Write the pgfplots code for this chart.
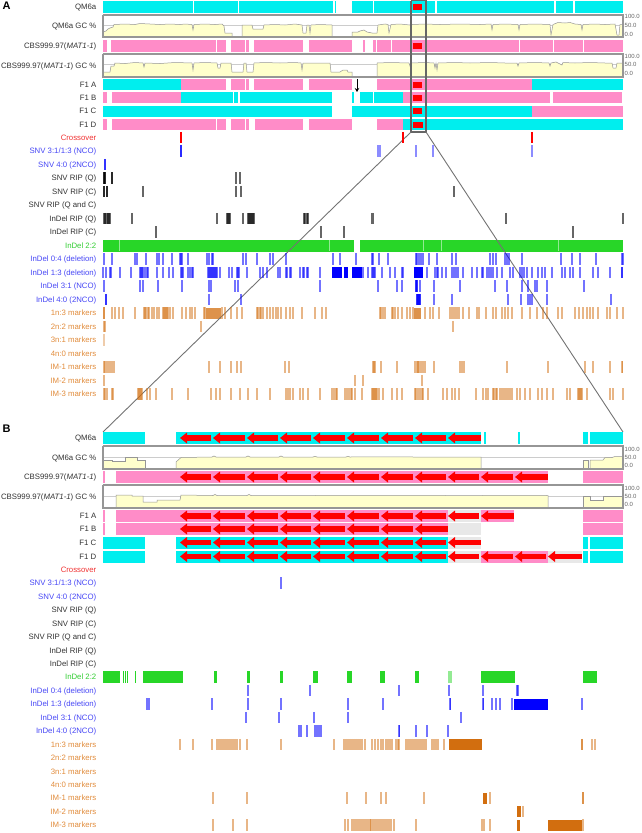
\documentclass[border=0pt]{standalone}
\usepackage{pgfplots}
\pgfplotsset{compat=1.18}
\usepackage{fontspec}
\setmainfont{Liberation Sans}
\usetikzlibrary{arrows.meta}
\definecolor{cy}{RGB}{0,238,238}
\definecolor{pk}{RGB}{255,140,200}
\definecolor{gcy}{RGB}{255,255,204}
\definecolor{gcl}{RGB}{150,150,150}
\definecolor{frm}{RGB}{150,150,150}
\definecolor{rd}{RGB}{255,0,0}
\definecolor{gr}{RGB}{40,214,40}
\definecolor{bl}{RGB}{0,0,255}
\definecolor{org}{RGB}{210,110,15}
\definecolor{lgr}{RGB}{232,232,232}
\definecolor{labk}{RGB}{50,50,50}
\definecolor{labr}{RGB}{240,50,50}
\definecolor{labb}{RGB}{70,70,245}
\definecolor{labg}{RGB}{50,205,50}
\definecolor{labo}{RGB}{225,140,60}
\pgfdeclareplotmark{lhead}{%
  \pgfpathmoveto{\pgfqpoint{0pt}{0pt}}%
  \pgfpathlineto{\pgfqpoint{7pt}{5.5pt}}%
  \pgfpathlineto{\pgfqpoint{7pt}{-5.5pt}}%
  \pgfpathclose\pgfusepathqfill}
\pgfplotsset{
  seg/.style n args={2}{color=#1, line width=#2, line cap=butt, mark=none, unbounded coords=jump},
  tk/.style n args={3}{only marks, mark=|, mark size=5.6pt, color=#1, mark options={solid, line width=#2, draw opacity=#3}},
}
\tikzset{gclab/.style={anchor=west, inner sep=0pt, text height=4.2pt, text depth=0pt, text=black!60, font=\fontsize{6}{7}\selectfont}}
\newcommand{\lab}[3]{\node[anchor=east,inner sep=0pt,text height=5.6pt,text depth=0pt,text=#1,font=\fontsize{7.8}{9}\selectfont] at (axis cs:96.5,#2) {#3};}
\newcommand{\gcl}[3]{\node[gclab] at (axis cs:624.5,#1) {100.0};\node[gclab] at (axis cs:624.5,#2) {50.0};\node[gclab] at (axis cs:624.5,#3) {0.0};}
\begin{document}
\begin{tikzpicture}
\begin{axis}[scale only axis, width=642pt, height=833pt, xmin=0, xmax=642, ymin=0, ymax=833, y dir=reverse, hide axis, clip=false]
% ================= PANEL A =================
% QM6a
\addplot[seg={cy}{12pt}] coordinates {(103,7)(193,7)(nan,7)(194,7)(238,7)(nan,7)(239,7)(333,7)(nan,7)(334.5,7)(335.5,7)(nan,7)(352,7)(373,7)(nan,7)(374,7)(435,7)(nan,7)(437,7)(554,7)(nan,7)(556,7)(573,7)(nan,7)(575,7)(623,7)};
% CBS
\addplot[seg={pk}{12pt}] coordinates {(103,46)(107,46)(nan,46)(111,46)(216,46)(nan,46)(217,46)(226,46)(nan,46)(231,46)(245,46)(nan,46)(246,46)(249,46)(nan,46)(254,46)(303,46)(nan,46)(309,46)(352,46)(nan,46)(363,46)(365,46)(nan,46)(373,46)(376,46)(nan,46)(377,46)(390.5,46)(nan,46)(391.5,46)(518.5,46)(nan,46)(519.5,46)(552.5,46)(nan,46)(553.5,46)(582.5,46)(nan,46)(583.5,46)(623,46)};
% F1 A
\addplot[seg={cy}{11pt}] coordinates {(103,84.5)(181,84.5)(nan,84.5)(532,84.5)(623,84.5)};
\addplot[seg={pk}{11pt}] coordinates {(181,84.5)(226,84.5)(nan,84.5)(231,84.5)(245,84.5)(nan,84.5)(246,84.5)(249,84.5)(nan,84.5)(254,84.5)(303,84.5)(nan,84.5)(309,84.5)(352,84.5)(nan,84.5)(377,84.5)(532,84.5)};
% F1 B
\addplot[seg={pk}{11pt}] coordinates {(103,97.5)(107,97.5)(nan,97.5)(112,97.5)(181,97.5)(nan,97.5)(403,97.5)(550,97.5)(nan,97.5)(553,97.5)(622,97.5)};
\addplot[seg={cy}{11pt}] coordinates {(181,97.5)(233,97.5)(nan,97.5)(234,97.5)(238,97.5)(nan,97.5)(240,97.5)(332,97.5)(nan,97.5)(352,97.5)(354,97.5)(nan,97.5)(360,97.5)(373,97.5)(nan,97.5)(374,97.5)(403,97.5)};
% F1 C
\addplot[seg={cy}{11pt}] coordinates {(103,111)(332,111)(nan,111)(352,111)(532,111)};
\addplot[seg={pk}{11pt}] coordinates {(532,111)(623,111)};
% F1 D
\addplot[seg={pk}{11pt}] coordinates {(103,124.5)(107,124.5)(nan,124.5)(112,124.5)(216,124.5)(nan,124.5)(217,124.5)(226,124.5)(nan,124.5)(231,124.5)(245,124.5)(nan,124.5)(246,124.5)(249,124.5)(nan,124.5)(255,124.5)(303,124.5)(nan,124.5)(309,124.5)(352,124.5)(nan,124.5)(377,124.5)(403,124.5)};
\addplot[seg={cy}{11pt}] coordinates {(403,124.5)(623,124.5)};
% MAT locus
\addplot[seg={rd}{6pt}] coordinates {(413,7)(422,7)(nan,7)(413,46)(422,46)(nan,46)(413,84.5)(422,84.5)(nan,84.5)(413,97.5)(422,97.5)(nan,97.5)(413,111)(422,111)(nan,111)(413,124.5)(423,124.5)};
% GC frames & midlines
\addplot[draw=black!20, line width=0.6pt, mark=none, unbounded coords=jump] coordinates {(103,25.5)(623,25.5)(nan,25.5)(103,64.5)(623,64.5)(nan,64.5)(103,457.5)(623,457.5)(nan,457.5)(103,496.5)(623,496.5)};
% QM6a GC A
\addplot[fill=gcy, draw=gcl, line width=0.5pt, mark=none] coordinates {(103,36.5)(103,32)(106,31)(108,29)(110,28)(113,27)(114,24.5)(125,24)(135,24.5)(140,23.5)(150,24)(160,24.5)(170,24)(180,24.5)(185,24)(192,24.5)(193,30)(194,24.5)(205,24)(215,24.5)(222,24)(224,26)(225,33)(232,33)(232,36.5)} -- cycle;
\addplot[fill=gcy, draw=gcl, line width=0.5pt, mark=none] coordinates {(242,36.5)(242,25)(252,25)(253,29)(263,29)(264,25)(275,24.5)(285,25)(295,24)(302,25)(303,33)(306,33)(307,25)(309,25)(310,33)(311,25)(320,24.5)(332,25)(332,36.5)} -- cycle;
\addplot[fill=gcy, draw=gcl, line width=0.5pt, mark=none] coordinates {(352,36.5)(352,32)(358,32)(360,31)(364,30)(367,32)(372,33)(377,33)(378,25)(385,24)(388,24.5)(389,33)(391,24.5)(400,24)(410,25)(411,27)(412,24.5)(425,24)(440,24.5)(460,24)(480,24.5)(491,24)(492,30)(493,24.5)(505,24)(518,24.5)(519,30)(520,24.5)(535,24)(550,24.5)(551,35)(553,24.5)(558,22.5)(565,23)(570,22.5)(575,24)(581,24.5)(582,30)(583,24.5)(595,24)(605,24.5)(615,24)(617,35)(619,35)(620,24.5)(623,24.5)(623,36.5)} -- cycle;
% CBS GC A
\addplot[fill=gcy, draw=gcl, line width=0.5pt, mark=none] coordinates {(103,76.5)(103,72)(110,72)(111,66)(114,66)(115,63)(125,63.5)(135,62.5)(143,63)(144,67)(145,63)(160,63.5)(175,62.5)(192,63)(193,70)(194,63)(205,62.5)(217,63)(218,68)(220,68)(221,63)(231,63)(232,72)(243,72)(244,63)(246,63)(247,72)(253,72)(254,63)(265,62.5)(280,63)(295,62.5)(301,63)(302,70)(303,63)(320,63)(330,63)(331,72)(340,72)(343,70)(347,70)(348,72)(352,72)(352,76.5)} -- cycle;
\addplot[fill=gcy, draw=gcl, line width=0.5pt, mark=none] coordinates {(377,76.5)(377,63)(390,62.5)(409,63)(410,66)(411,63)(425,62.5)(434,63)(435,68)(436,63)(437,70)(438,63)(455,62.5)(470,63)(490,62.5)(505,63)(517,63)(518,66)(519,63)(535,62.5)(549,63)(550,66)(551,63)(556,62)(562,65)(563,62.5)(575,63)(590,62.5)(605,63)(612,63)(613,68)(616,68)(617,63)(623,63)(623,76.5)} -- cycle;
\addplot[draw=frm, line width=1.3pt, mark=none, unbounded coords=jump] coordinates {(103,15)(623,15)(623,37)(103,37)(103,15)(nan,15)(103,54)(623,54)(623,77)(103,77)(103,54)};
% Crossover
\addplot[tk={rd}{1.6pt}{1}] coordinates {(181,137.5)(403,137.5)(532,137.5)};
% SNV 3:1/1:3
\addplot[tk={bl}{1.1pt}{0.45}] coordinates {(181,151)(181,151)(181,151)(378,151)(380,151)(416,151)(433,151)(532,151)};
% SNV 4:0
\addplot[tk={bl}{1.2pt}{0.8}] coordinates {(104.5,164.5)(105.5,164.5)};
% SNV RIP Q / C
\addplot[tk={black}{1.1pt}{0.6}] coordinates {(104,178)(104,178)(105,178)(105,178)(112,178)(112,178)(236,178)(240,178)};
\addplot[tk={black}{1.1pt}{0.6}] coordinates {(104,191.5)(104,191.5)(107,191.5)(107,191.5)(143,191.5)(236,191.5)(241,191.5)(454,191.5)};
% InDel RIP Q / C
\addplot[tk={black}{1.1pt}{0.6}] coordinates {(103.5,218.5)(105,218.5)(105,218.5)(107,218.5)(108,218.5)(109,218.5)(110,218.5)(132,218.5)(217,218.5)(227,218.5)(228,218.5)(229,218.5)(230,218.5)(243,218.5)(248,218.5)(249,218.5)(250,218.5)(251,218.5)(252,218.5)(253,218.5)(254,218.5)(304,218.5)(305,218.5)(307,218.5)(308,218.5)(372,218.5)(373.5,218.5)(506,218.5)(623,218.5)};
\addplot[tk={black}{1.1pt}{0.6}] coordinates {(156,232)(321,232)(344,232)(573,232)};
% InDel 2:2
\addplot[seg={gr}{12pt}] coordinates {(103,245.5)(354,245.5)(nan,245.5)(360,245.5)(623,245.5)};
\addplot[tk={white}{1pt}{0.5}] coordinates {(119,245.5)(329,245.5)(423,245.5)(441,245.5)(558,245.5)};
% InDel 0:4
\addplot[tk={bl}{1.1pt}{0.55}] coordinates {(104,259)(112,259)(135,259)(137,259)(146,259)(157,259)(159,259)(163,259)(172,259)(180,259)(181,259)(182,259)(188,259)(207,259)(209,259)(212,259)(213,259)(243,259)(246,259)(257,259)(270,259)(273,259)(286,259)(333,259)(340,259)(356,259)(372,259)(373,259)(379,259)(388,259)(416,259)(417,259)(419,259)(421,259)(423,259)(429,259)(437,259)(452,259)(456,259)(490,259)(493,259)(496,259)(505,259)(507,259)(509,259)(522,259)(561,259)(572,259)(580,259)(596,259)(622,259)(623,259)};
% InDel 1:3
\addplot[seg={bl}{11pt}] coordinates {(332,272.5)(342,272.5)(nan,272.5)(343.5,272.5)(348,272.5)(nan,272.5)(352,272.5)(362,272.5)(nan,272.5)(413.5,272.5)(422.5,272.5)};
\addplot[tk={bl}{1.1pt}{0.55}] coordinates {(103,272.5)(106,272.5)(110,272.5)(111,272.5)(120,272.5)(131,272.5)(140,272.5)(141,272.5)(142,272.5)(143,272.5)(145,272.5)(147,272.5)(148,272.5)(157,272.5)(163,272.5)(169,272.5)(173,272.5)(181,272.5)(182,272.5)(183,272.5)(188,272.5)(190,272.5)(192,272.5)(193,272.5)(208,272.5)(209,272.5)(210,272.5)(211,272.5)(212,272.5)(213,272.5)(214,272.5)(215,272.5)(216,272.5)(217,272.5)(220,272.5)(229,272.5)(232,272.5)(237,272.5)(238,272.5)(239,272.5)(247,272.5)(260,272.5)(263,272.5)(267,272.5)(278,272.5)(280,272.5)(286,272.5)(287,272.5)(290,272.5)(291,272.5)(300,272.5)(303,272.5)(304,272.5)(307,272.5)(308,272.5)(320,272.5)(363,272.5)(368,272.5)(372,272.5)(373,272.5)(374,272.5)(375,272.5)(382,272.5)(390,272.5)(395,272.5)(402,272.5)(403,272.5)(427,272.5)(435,272.5)(437,272.5)(438,272.5)(442,272.5)(446,272.5)(452,272.5)(454,272.5)(456,272.5)(458,272.5)(463,272.5)(472,272.5)(477,272.5)(482,272.5)(483,272.5)(487,272.5)(489,272.5)(491,272.5)(493,272.5)(497,272.5)(502,272.5)(510,272.5)(513,272.5)(520,272.5)(522,272.5)(524,272.5)(527,272.5)(532,272.5)(538,272.5)(542,272.5)(545,272.5)(552,272.5)(562,272.5)(565,272.5)(570,272.5)(573,272.5)(580,272.5)(593,272.5)(598,272.5)(610,272.5)(622,272.5)(622,272.5)};
% InDel 3:1
\addplot[tk={bl}{1.1pt}{0.55}] coordinates {(104,286)(140,286)(143,286)(158,286)(182,286)(209,286)(211,286)(235,286)(238,286)(320,286)(378,286)(397,286)(402,286)(416,286)(416,286)(417,286)(417,286)(420,286)(434,286)(460,286)(495,286)(507,286)(522,286)(528,286)(535,286)(537,286)(547,286)(584,286)};
% InDel 4:0
\addplot[tk={bl}{1.1pt}{0.55}] coordinates {(106,299.5)(106,299.5)(209,299.5)(241,299.5)(417,299.5)(417,299.5)(418,299.5)(418,299.5)(419,299.5)(419,299.5)(420,299.5)(420,299.5)(434,299.5)(452,299.5)(508,299.5)(521,299.5)(528,299.5)(530,299.5)(532,299.5)(547,299.5)(611,299.5)};
% 1n:3 markers
\addplot[seg={org}{11pt}, draw opacity=0.75] coordinates {(206,313)(221,313)(nan,313)(414,313)(421,313)};
\addplot[tk={org}{1.3pt}{0.5}] coordinates {(104,313)(104,313)(112,313)(115,313)(119,313)(123,313)(135,313)(144,313)(145,313)(146,313)(148,313)(149,313)(152,313)(154,313)(157,313)(159,313)(163,313)(164,313)(165,313)(166,313)(167,313)(168,313)(170,313)(173,313)(182,313)(186,313)(190,313)(192,313)(195,313)(204,313)(205,313)(222,313)(225,313)(231,313)(237,313)(242,313)(257,313)(258,313)(260,313)(261,313)(263,313)(267,313)(270,313)(273,313)(276,313)(278,313)(281,313)(286,313)(290,313)(293,313)(302,313)(315,313)(322,313)(326,313)(380,313)(381,313)(383,313)(385,313)(392,313)(393,313)(395,313)(398,313)(402,313)(407,313)(410,313)(413,313)(425,313)(430,313)(433,313)(439,313)(450,313)(451.5,313)(453,313)(454.5,313)(456,313)(457.5,313)(459,313)(463,313)(469,313)(477,313)(479,313)(486,313)(493,313)(496,313)(502,313)(505,313)(508,313)(512,313)(522,313)(530,313)(537,313)(543,313)(547,313)(558,313)(562,313)(575,313)(579,313)(583,313)(587,313)(590,313)(593,313)(598,313)(607,313)(610,313)(617,313)(623,313)};
% 2n:2, 3n:1
\addplot[tk={org}{1.3pt}{0.5}] coordinates {(103.5,326.5)(104.5,326.5)(104.5,326.5)(105.5,326.5)(201,326.5)(453,326.5)};
\addplot[tk={org}{1.3pt}{0.35}] coordinates {(104,340)};
% IM-1
\addplot[tk={org}{1.3pt}{0.5}] coordinates {(103.5,367)(104.5,367)(104.5,367)(105.5,367)(106.5,367)(108,367)(109.5,367)(111,367)(112.5,367)(114,367)(209,367)(220,367)(231,367)(237,367)(241,367)(285,367)(289,367)(373,367)(374,367)(375,367)(381,367)(397,367)(415,367)(417,367)(418,367)(419,367)(421,367)(423,367)(425,367)(434,367)(460,367)(462,367)(464,367)(507,367)(548,367)(585,367)(593,367)(610,367)(622,367)(622.5,367)};
% IM-2
\addplot[tk={org}{1.3pt}{0.5}] coordinates {(104,380.5)(355,380.5)(363,380.5)(422,380.5)};
% IM-3
\addplot[tk={org}{1.3pt}{0.5}] coordinates {(104,394)(105,394)(107,394)(112,394)(113,394)(138,394)(139,394)(140,394)(141,394)(142,394)(147,394)(150,394)(156,394)(172,394)(188,394)(211,394)(216,394)(220,394)(231,394)(240,394)(248,394)(257,394)(270,394)(286,394)(288,394)(290,394)(293,394)(300,394)(303,394)(308,394)(320,394)(332,394)(334,394)(336,394)(337,394)(345,394)(347,394)(349,394)(351,394)(352,394)(355,394)(362,394)(372,394)(373,394)(374,394)(375,394)(376,394)(377,394)(379,394)(383,394)(392,394)(397,394)(402,394)(415,394)(416,394)(418,394)(420,394)(422,394)(423,394)(428,394)(443,394)(447,394)(452,394)(455,394)(459,394)(476,394)(483,394)(486,394)(488,394)(493,394)(494,394)(496,394)(497,394)(500,394)(502,394)(504,394)(506,394)(508,394)(510,394)(512,394)(517,394)(520,394)(525,394)(530,394)(538,394)(542,394)(547,394)(553,394)(567,394)(570,394)(578,394)(579,394)(580,394)(581,394)(582,394)(587,394)(610,394)(613,394)(623,394)};
% zoom box and connectors
\addplot[draw=black!60, line width=1.2pt, mark=none] coordinates {(411,0.8)(426,0.8)(426,132)(411,132)(411,0.8)};
\addplot[draw=black!55, line width=0.9pt, mark=none, unbounded coords=jump] coordinates {(411,132)(103,432)(nan,132)(426,132)(623,432)};
% arrow
\addplot[black, line width=0.9pt, mark=none, -{Stealth[length=4pt,width=4.5pt]}] coordinates {(357,79)(357,92)};
% ================= PANEL B =================
\addplot[seg={cy}{12pt}] coordinates {(103,438)(145,438)(nan,438)(176,438)(481,438)(nan,438)(484,438)(486,438)(nan,438)(518,438)(519.5,438)(nan,438)(583,438)(588,438)(nan,438)(590,438)(623,438)};
\addplot[seg={pk}{12pt}] coordinates {(103,477)(105,477)(nan,477)(116,477)(548,477)(nan,477)(583,477)(623,477)};
\addplot[seg={pk}{12pt}] coordinates {(103,516)(105,516)(nan,516)(116,516)(448,516)(nan,516)(481,516)(514,516)(nan,516)(583,516)(623,516)};
\addplot[seg={pk}{12pt}] coordinates {(103,529)(105,529)(nan,529)(116,529)(448,529)(nan,529)(583,529)(623,529)};
\addplot[seg={cy}{12pt}] coordinates {(103,542.5)(145,542.5)(nan,542.5)(176,542.5)(448,542.5)(nan,542.5)(583,542.5)(588,542.5)(nan,542.5)(590,542.5)(623,542.5)};
\addplot[seg={cy}{12pt}] coordinates {(103,556.5)(145,556.5)(nan,556.5)(176,556.5)(448,556.5)(nan,556.5)(583,556.5)(588,556.5)(nan,556.5)(590,556.5)(623,556.5)};
\addplot[seg={pk}{12pt}] coordinates {(481,556.5)(548,556.5)};
\addplot[seg={lgr}{12pt}] coordinates {(448,516)(481,516)(nan,516)(448,529)(481,529)(nan,529)(448,542.5)(481,542.5)(nan,542.5)(448,556.5)(481,556.5)(nan,556.5)(548,556.5)(582,556.5)};
% red arrows: shafts
\addplot[seg={rd}{5.5pt}] coordinates {(186,438)(211,438)(nan,438)(219,438)(245,438)(nan,438)(253,438)(278,438)(nan,438)(286,438)(311,438)(nan,438)(319,438)(345,438)(nan,438)(353,438)(379,438)(nan,438)(387,438)(413,438)(nan,438)(421,438)(446,438)(nan,438)(454,438)(481,438)};
\addplot[seg={rd}{5.5pt}] coordinates {(186,477)(211,477)(nan,477)(219,477)(245,477)(nan,477)(253,477)(278,477)(nan,477)(286,477)(311,477)(nan,477)(319,477)(345,477)(nan,477)(353,477)(379,477)(nan,477)(387,477)(413,477)(nan,477)(421,477)(446,477)(nan,477)(454,477)(479,477)(nan,477)(487,477)(513,477)(nan,477)(521,477)(548,477)};
\addplot[seg={rd}{5.5pt}] coordinates {(186,516)(211,516)(nan,516)(219,516)(245,516)(nan,516)(253,516)(278,516)(nan,516)(286,516)(311,516)(nan,516)(319,516)(345,516)(nan,516)(353,516)(379,516)(nan,516)(387,516)(413,516)(nan,516)(421,516)(446,516)(nan,516)(454,516)(479,516)(nan,516)(487,516)(514,516)};
\addplot[seg={rd}{5.5pt}] coordinates {(186,529)(211,529)(nan,529)(219,529)(245,529)(nan,529)(253,529)(278,529)(nan,529)(286,529)(311,529)(nan,529)(319,529)(345,529)(nan,529)(353,529)(379,529)(nan,529)(387,529)(413,529)(nan,529)(421,529)(448,529)};
\addplot[seg={rd}{5.5pt}] coordinates {(186,542.5)(211,542.5)(nan,542.5)(219,542.5)(245,542.5)(nan,542.5)(253,542.5)(278,542.5)(nan,542.5)(286,542.5)(311,542.5)(nan,542.5)(319,542.5)(345,542.5)(nan,542.5)(353,542.5)(379,542.5)(nan,542.5)(387,542.5)(413,542.5)(nan,542.5)(421,542.5)(446,542.5)(nan,542.5)(454,542.5)(481,542.5)};
\addplot[seg={rd}{5.5pt}] coordinates {(186,556.5)(211,556.5)(nan,556.5)(219,556.5)(245,556.5)(nan,556.5)(253,556.5)(278,556.5)(nan,556.5)(286,556.5)(311,556.5)(nan,556.5)(319,556.5)(345,556.5)(nan,556.5)(353,556.5)(379,556.5)(nan,556.5)(387,556.5)(413,556.5)(nan,556.5)(421,556.5)(446,556.5)(nan,556.5)(454,556.5)(479,556.5)(nan,556.5)(487,556.5)(513,556.5)(nan,556.5)(521,556.5)(546,556.5)(nan,556.5)(554,556.5)(582,556.5)};
% red arrows: heads
\addplot[only marks, mark=lhead, color=rd] coordinates {(180,438)(213,438)(247,438)(280,438)(313,438)(347,438)(381,438)(415,438)(448,438)
(180,477)(213,477)(247,477)(280,477)(313,477)(347,477)(381,477)(415,477)(448,477)(481,477)(515,477)
(180,516)(213,516)(247,516)(280,516)(313,516)(347,516)(381,516)(415,516)(448,516)(481,516)
(180,529)(213,529)(247,529)(280,529)(313,529)(347,529)(381,529)(415,529)
(180,542.5)(213,542.5)(247,542.5)(280,542.5)(313,542.5)(347,542.5)(381,542.5)(415,542.5)(448,542.5)
(180,556.5)(213,556.5)(247,556.5)(280,556.5)(313,556.5)(347,556.5)(381,556.5)(415,556.5)(448,556.5)(481,556.5)(515,556.5)(548,556.5)};
% QM6a GC B
\addplot[fill=gcy, draw=gcl, line width=0.5pt, mark=none] coordinates {(103,468.5)(103,460)(112,460)(112,461)(125,461)(125,457.5)(137,457.5)(137,460)(145,460)(145,468.5)} -- cycle;
\addplot[fill=gcy, draw=gcl, line width=0.5pt, mark=none] coordinates {(176,468.5)(176,462)(181,457.5)(212,457)(214,456)(216,457)(246,457)(248,456)(250,457)(279,457)(281,456)(283,457)(313,457)(315,456.3)(317,457)(346,457)(348,456.3)(350,457)(380,456.8)(414,457)(447,457)(481,457)(481,468.5)} -- cycle;
\addplot[fill=gcy, draw=gcl, line width=0.5pt, mark=none] coordinates {(583,468.5)(583,460)(588,460)(588,468.5)} -- cycle;
\addplot[fill=gcy, draw=gcl, line width=0.5pt, mark=none] coordinates {(590,468.5)(590,460)(603,460)(605,457.5)(612,457.5)(615,456.5)(623,456.5)(623,468.5)} -- cycle;
% CBS GC B
\addplot[fill=gcy, draw=gcl, line width=0.5pt, mark=none] coordinates {(116,507.5)(116,495)(132,495)(132,496)(143,496)(143,502)(157,502)(157,500)(180,500)(181,495)(213,495.5)(215,494.5)(217,495.5)(247,495.5)(249,494.5)(251,495.5)(313,495.5)(381,495.3)(448,495.5)(481,495.5)(515,495.3)(548,495.5)(548,507.5)} -- cycle;
\addplot[fill=gcy, draw=gcl, line width=0.5pt, mark=none] coordinates {(583,507.5)(583,496)(590,496)(590,500.5)(603,500.5)(603,496.5)(623,496.5)(623,507.5)} -- cycle;
\addplot[draw=frm, line width=1.3pt, mark=none, unbounded coords=jump] coordinates {(103,446)(623,446)(623,469)(103,469)(103,446)(nan,446)(103,485)(623,485)(623,508)(103,508)(103,485)};
% B ticks
\addplot[tk={bl}{1.1pt}{0.55}] coordinates {(281,583)};
\addplot[seg={gr}{12pt}] coordinates {(103,677)(120,677)(nan,677)(123,677)(124,677)(nan,677)(125,677)(126,677)(nan,677)(127,677)(128,677)(nan,677)(135,677)(136,677)(nan,677)(143,677)(183,677)(nan,677)(214,677)(217,677)(nan,677)(247,677)(250,677)(nan,677)(280,677)(283,677)(nan,677)(313,677)(318,677)(nan,677)(347,677)(352,677)(nan,677)(380,677)(385,677)(nan,677)(415,677)(419,677)(nan,677)(481,677)(515,677)(nan,677)(583,677)(597,677)};
\addplot[seg={gr}{12pt}, draw opacity=0.5] coordinates {(448,677)(452,677)};
\addplot[tk={bl}{1.1pt}{0.55}] coordinates {(248,690.5)(310,690.5)(399,690.5)(449,690.5)(483,690.5)(516.5,690.5)(517.5,690.5)(517.5,690.5)(518.5,690.5)};
\addplot[seg={bl}{11pt}] coordinates {(514,704)(548,704)};
\addplot[tk={bl}{1.1pt}{0.55}] coordinates {(147,704)(149,704)(212,704)(248,704)(281,704)(348,704)(383,704)(449.5,704)(450.5,704)(450.5,704)(482.5,704)(483.5,704)(483.5,704)(492,704)(496,704)(500,704)(512,704)(582,704)};
\addplot[tk={bl}{1.1pt}{0.55}] coordinates {(246,717.5)(279,717.5)(314,717.5)(348,717.5)(461,717.5)};
\addplot[tk={bl}{1.1pt}{0.55}] coordinates {(299,731)(301,731)(307,731)(315,731)(317,731)(319,731)(321,731)(398.5,731)(399.5,731)(399.5,731)(416,731)(427,731)(448,731)};
\addplot[seg={org}{11pt}] coordinates {(449,744.5)(482,744.5)(nan,744.5)(548,825)(582,825)(nan,825)(483,798)(487,798)(nan,798)(517,811.5)(521,811.5)(nan,811.5)(517,825)(520,825)};
\addplot[tk={org}{1.3pt}{0.5}] coordinates {(180,744.5)(193,744.5)(212,744.5)(217,744.5)(219,744.5)(221,744.5)(223,744.5)(225,744.5)(227,744.5)(229,744.5)(231,744.5)(233,744.5)(235,744.5)(237,744.5)(240,744.5)(247,744.5)(281,744.5)(334,744.5)(344,744.5)(346,744.5)(348,744.5)(350,744.5)(352,744.5)(354,744.5)(356,744.5)(358,744.5)(360,744.5)(362,744.5)(365,744.5)(372,744.5)(375,744.5)(378,744.5)(381,744.5)(383,744.5)(386,744.5)(388,744.5)(390,744.5)(392,744.5)(396,744.5)(398,744.5)(399,744.5)(406,744.5)(408,744.5)(410,744.5)(412,744.5)(414,744.5)(416,744.5)(418,744.5)(420,744.5)(422,744.5)(424,744.5)(426,744.5)(432,744.5)(434,744.5)(436,744.5)(438,744.5)(444,744.5)(582,744.5)(582,744.5)(592,744.5)(595,744.5)};
\addplot[tk={org}{1.3pt}{0.5}] coordinates {(213,798)(247,798)(347,798)(366,798)(381,798)(386,798)(424,798)(490,798)(583,798)(583,798)};
\addplot[tk={org}{1.3pt}{0.5}] coordinates {(523,811.5)};
\addplot[tk={org}{1.3pt}{0.5}] coordinates {(213,825)(233,825)(247,825)(345,825)(348,825)(352,825)(354,825)(356,825)(358,825)(360,825)(362,825)(364,825)(366,825)(368,825)(370,825)(371,825)(373,825)(375,825)(377,825)(379,825)(381,825)(383,825)(385,825)(387,825)(389,825)(391,825)(394,825)(416,825)(482,825)(484,825)(490,825)(583,825)};
% ================= LABELS =================
\node[anchor=north west, inner sep=0pt, font=\bfseries\fontsize{11}{12}\selectfont] at (axis cs:2.5,1.5) {A};
\node[anchor=north west, inner sep=0pt, font=\bfseries\fontsize{11}{12}\selectfont] at (axis cs:2.5,424.5) {B};
\lab{labk}{7}{QM6a}
\lab{labk}{26}{QM6a GC \%}
\lab{labk}{46}{CBS999.97(\textit{MAT1-1})}
\lab{labk}{65.5}{CBS999.97(\textit{MAT1-1}) GC \%}
\lab{labk}{84.5}{F1 A}
\lab{labk}{97.5}{F1 B}
\lab{labk}{111}{F1 C}
\lab{labk}{124.5}{F1 D}
\lab{labr}{137.5}{Crossover}
\lab{labb}{151}{SNV 3:1/1:3 (NCO)}
\lab{labb}{164.5}{SNV 4:0 (2NCO)}
\lab{labk}{178}{SNV RIP (Q)}
\lab{labk}{191.5}{SNV RIP (C)}
\lab{labk}{205}{SNV RIP (Q and C)}
\lab{labk}{218.5}{InDel RIP (Q)}
\lab{labk}{232}{InDel RIP (C)}
\lab{labg}{245.5}{InDel 2:2}
\lab{labb}{259}{InDel 0:4 (deletion)}
\lab{labb}{272.5}{InDel 1:3 (deletion)}
\lab{labb}{286}{InDel 3:1 (NCO)}
\lab{labb}{299.5}{InDel 4:0 (2NCO)}
\lab{labo}{313}{1n:3 markers}
\lab{labo}{326.5}{2n:2 markers}
\lab{labo}{340}{3n:1 markers}
\lab{labo}{353.5}{4n:0 markers}
\lab{labo}{367}{IM-1 markers}
\lab{labo}{380.5}{IM-2 markers}
\lab{labo}{394}{IM-3 markers}
\lab{labk}{438}{QM6a}
\lab{labk}{457.5}{QM6a GC \%}
\lab{labk}{477}{CBS999.97(\textit{MAT1-1})}
\lab{labk}{496.5}{CBS999.97(\textit{MAT1-1}) GC \%}
\lab{labk}{516}{F1 A}
\lab{labk}{529}{F1 B}
\lab{labk}{542.5}{F1 C}
\lab{labk}{556.5}{F1 D}
\lab{labr}{569.5}{Crossover}
\lab{labb}{583}{SNV 3:1/1:3 (NCO)}
\lab{labb}{596.5}{SNV 4:0 (2NCO)}
\lab{labk}{610}{SNV RIP (Q)}
\lab{labk}{623.5}{SNV RIP (C)}
\lab{labk}{637}{SNV RIP (Q and C)}
\lab{labk}{650.5}{InDel RIP (Q)}
\lab{labk}{664}{InDel RIP (C)}
\lab{labg}{677}{InDel 2:2}
\lab{labb}{690.5}{InDel 0:4 (deletion)}
\lab{labb}{704}{InDel 1:3 (deletion)}
\lab{labb}{717.5}{InDel 3:1 (NCO)}
\lab{labb}{731}{InDel 4:0 (2NCO)}
\lab{labo}{744.5}{1n:3 markers}
\lab{labo}{758}{2n:2 markers}
\lab{labo}{771.5}{3n:1 markers}
\lab{labo}{785}{4n:0 markers}
\lab{labo}{798}{IM-1 markers}
\lab{labo}{811.5}{IM-2 markers}
\lab{labo}{825}{IM-3 markers}
\gcl{16.5}{25.5}{34.5}
\gcl{56}{64.5}{73}
\gcl{449}{457.5}{465.5}
\gcl{488}{496.5}{504.5}
\end{axis}
\pgfresetboundingbox
\path (current axis.south west) rectangle (current axis.north east);
\end{tikzpicture}
\end{document}
